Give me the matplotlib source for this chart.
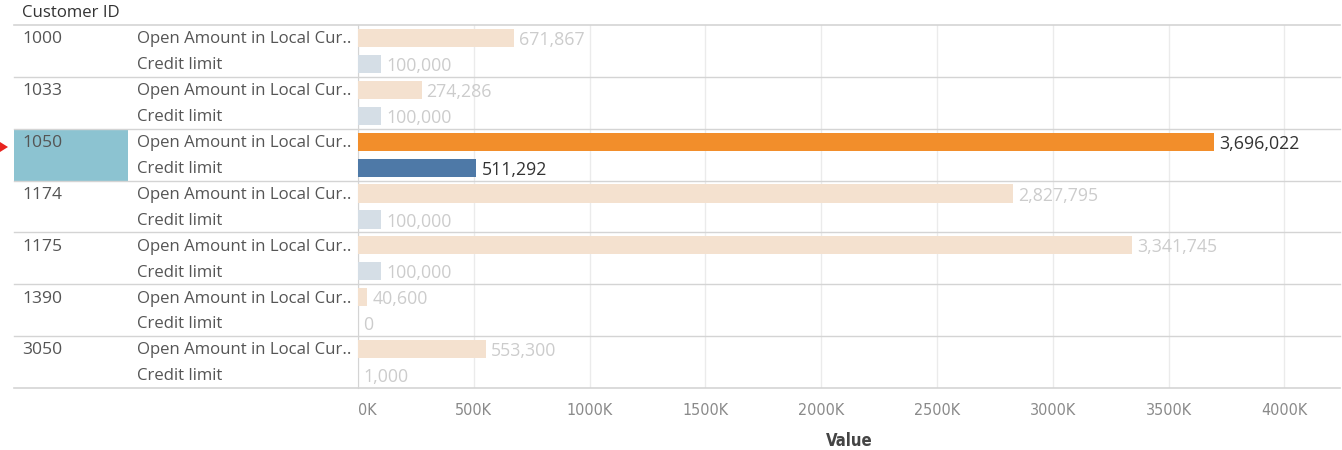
import matplotlib
matplotlib.use("Agg")
import matplotlib.pyplot as plt
from matplotlib.transforms import blended_transform_factory
from matplotlib.patches import Polygon, Rectangle
from matplotlib.lines import Line2D

plt.rcParams['font.family'] = ['Open Sans', 'DejaVu Sans']

customer_ids = ["1000", "1033", "1050", "1174", "1175", "1390", "3050"]
measures = ["Open Amount in Local Cur..", "Credit limit"]
open_amount = [671867, 274286, 3696022, 2827795, 3341745, 40600, 553300]
credit_limit = [100000, 100000, 511292, 100000, 100000, 0, 1000]
selected_id = "1050"
tick_values = [0, 500000, 1000000, 1500000, 2000000, 2500000, 3000000, 3500000, 4000000]
tick_labels = ["0K", "500K", "1000K", "1500K", "2000K", "2500K", "3000K", "3500K", "4000K"]

W, H = 1342, 450
fig = plt.figure(figsize=(W / 100, H / 100), dpi=100)
ax = fig.add_axes([358 / W, 1 - 388 / H, (1340 - 358) / W, (388 - 25) / H])

ORANGE, BLUE = "#f28e2b", "#4e79a7"
ORANGE_FADE, BLUE_FADE = "#f4e1cf", "#d5dee6"
GRID = "#ebebeb"
SEP = "#d4d4d4"
FS = 12.1

n = len(customer_ids)
for i, cid in enumerate(customer_ids):
    sel = cid == selected_id
    for j, (val, strong, fade) in enumerate(
            [(open_amount[i], ORANGE, ORANGE_FADE), (credit_limit[i], BLUE, BLUE_FADE)]):
        y = 2 * i + j
        ax.barh(y, val, height=0.7, color=strong if sel else fade, zorder=3)
        ax.text(val + 22000, y + 0.08, f"{val:,}", va="center", ha="left",
                fontsize=12.8, color="#333333" if sel else "#cccccc", zorder=4)

ax.set_xlim(0, 4.24e6)
ax.set_ylim(2 * n - 0.5, -0.5)
ax.set_yticks([])
ax.set_xticks(tick_values)
ax.set_xticklabels(tick_labels)
for lbl in ax.get_xticklabels():
    lbl.set_fontfamily("DejaVu Sans")
    lbl.set_fontstretch("condensed")
ax.get_xticklabels()[0].set_horizontalalignment("left")
ax.tick_params(axis="x", length=0, pad=11, labelsize=11.5, labelcolor="#8a8a8a")
ax.grid(axis="x", color=GRID, linewidth=1, zorder=0)
for s in ["top", "right", "bottom"]:
    ax.spines[s].set_visible(False)
ax.spines["left"].set_color(SEP)
ax.set_xlabel("Value", fontsize=12, color="#444444", labelpad=10,
              fontfamily="DejaVu Sans", fontstretch="condensed", fontweight="bold")

# Row headers drawn in figure-x / data-y coordinates
tr = blended_transform_factory(fig.transFigure, ax.transData)
for i, cid in enumerate(customer_ids):
    if cid == selected_id:
        ax.add_patch(Rectangle((14 / W, 2 * i - 0.5), (128 - 14) / W, 2,
                               transform=tr, facecolor="#8cc3d1", edgecolor="none",
                               clip_on=False, zorder=1))
    ax.text(22 / W, 2 * i + 0.05, cid, transform=tr, va="center", ha="left",
            fontsize=FS + 0.5, color="#555555")
    for j, m in enumerate(measures):
        ax.text(137 / W, 2 * i + j + 0.05, m, transform=tr, va="center", ha="left",
                fontsize=FS, color="#555555")

# Group separators across the whole table
for k in range(n + 1):
    yk = 2 * k - 0.5
    ax.add_line(Line2D([14 / W, 1340 / W], [yk, yk], transform=tr, color=SEP,
                       linewidth=1.2 if k in (0, n) else 1.0, clip_on=False, zorder=5))

fig.text(22 / W, 1 - 13 / H, "Customer ID", ha="left", va="center",
         fontsize=FS, color="#333333")

# Selection marker
fig.patches.append(Polygon([[0, 1 - 142 / H], [8 / W, 1 - 147 / H], [0, 1 - 152 / H]],
                           closed=True, transform=fig.transFigure,
                           facecolor="#e8231f", edgecolor="none"))

fig.savefig("out.png", dpi=100, facecolor="white")
